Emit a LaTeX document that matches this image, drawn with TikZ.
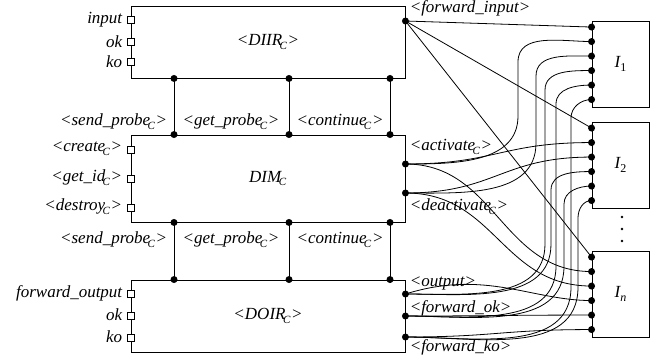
\documentclass[tikz,border=0pt]{standalone}
\usepackage{fontspec}
\setmainfont{Liberation Serif}
\newcommand{\subC}{\kern-.15em\raisebox{-.5ex}{\fontsize{11}{11}\selectfont C}\kern.04em}
\newcommand{\subI}[1]{\raisebox{-.45ex}{\fontsize{12}{12}\selectfont #1}}
\begin{document}
\begin{tikzpicture}[
  x=1pt, y=-1pt,
  font=\fontsize{17}{20}\selectfont\itshape,
  line width=0.9pt,
  comp/.style={draw, minimum width=274pt, inner sep=0pt},
  inst/.style={draw, minimum width=57pt, minimum height=86pt, inner sep=0pt},
  port/.style={draw, fill=white, minimum size=7pt, inner sep=0pt, line width=0.7pt},
  wire/.style={line width=0.8pt}
]
\useasboundingbox (0,0) rectangle (663,354);

\node[comp, minimum height=72pt] (diir) at (268,42) {<DIIR\subC>};
\node[comp, minimum height=87pt] (dim) at (268,178.5) {DIM\subC};
\node[comp, minimum height=72pt] (doir) at (268,316) {<DOIR\subC>};

\node[inst] (iOne) at (620.5,64) {I\subI{\upshape 1}};
\node[inst] (iTwo) at (620.5,165) {I\subI{\upshape 2}};
\node[inst] (iN) at (620.5,294) {I\subI{n}};

% ports on the left
\node[port] (pIn) at (131,20) {};
\node[port] (pOk) at (131,42) {};
\node[port] (pKo) at (131,62) {};
\node[port] (pCr) at (131,150) {};
\node[port] (pId) at (131,179) {};
\node[port] (pDe) at (131,208) {};
\node[port] (pFo) at (131,294) {};
\node[port] (pOkB) at (131,316) {};
\node[port] (pKoB) at (131,338) {};

\node[anchor=east] (lIn) at (126,20) {input};
\node[anchor=east] (lOk) at (126,42) {ok};
\node[anchor=east] (lKo) at (126,62) {ko};
\node[anchor=east] (lCr) at (126,149) {<create\subC>};
\node[anchor=east] (lId) at (126,178) {<get\_id\subC>};
\node[anchor=east] (lDe) at (126,207) {<destroy\subC>};
\node[anchor=east] (lFo) at (126,293) {forward\_output};
\node[anchor=east] (lOkB) at (126,315) {ok};
\node[anchor=east] (lKoB) at (126,337) {ko};

% buses between the components
\foreach \x [count=\k] in {174,289,390} {
  \coordinate (up\k) at (\x,0 |- diir.south);
  \coordinate (mu\k) at (\x,0 |- dim.north);
  \coordinate (md\k) at (\x,0 |- dim.south);
  \coordinate (lo\k) at (\x,0 |- doir.north);
}
\foreach \k in {1,2,3} {
  \draw (up\k) -- (mu\k);
  \draw (md\k) -- (lo\k);
  \foreach \c in {up,mu,md,lo} \fill (\c\k) circle (3.5);
}
\node[anchor=east] (sendA) at (171,122) {<send\_probe\subC>};
\node (getA) at (231,122) {<get\_probe\subC>};
\node (contA) at (340,122) {<continue\subC>};
\node[anchor=east] (sendB) at (171,240) {<send\_probe\subC>};
\node (getB) at (231,240) {<get\_probe\subC>};
\node (contB) at (340,240) {<continue\subC>};

% outputs on the right
\coordinate (fi) at (diir.east |- 0,21);
\coordinate (act) at (dim.east |- 0,164);
\coordinate (dea) at (dim.east |- 0,193);
\coordinate (out) at (doir.east |- 0,294);
\coordinate (fok) at (doir.east |- 0,316);
\coordinate (fko) at (doir.east |- 0,337);
\foreach \s in {fi,act,dea,out,fok,fko} \fill (\s) circle (3.5);

\node[anchor=west] (lFi) at (406,8) {<forward\_input>};
\node[anchor=west] (lAct) at (406,147) {<activate\subC>};
\node[anchor=west] (lDea) at (406,207) {<deactivate\subC>};
\node[anchor=west] (lOut) at (406,283) {<output>};
\node[anchor=west] (lFok) at (406,308) {<forward\_ok>};
\node[anchor=west] (lFko) at (406,347) {<forward\_ko>};

\foreach \b in {iOne,iTwo,iN}
  \foreach \i in {1,...,6} {
    \coordinate (\b-\i) at ([yshift={-6.5pt-14.5pt*(\i-1)}]\b.north west);
    \fill (\b-\i) circle (3.5);
  }

% wiring
\draw[wire] (fi) -- (iOne-1);
\draw[wire] (fi) -- (iTwo-1);
\draw[wire] (fi) -- (iN-1);
\draw[wire] (act) to[out=0,in=-90] (518,116) -- (518,62) to[out=90,in=180] (iOne-2);
\draw[wire] (act) .. controls +(90,0) and +(-90,0) .. (iTwo-2);
\draw[wire] (act) .. controls +(90,0) and +(-90,0) .. (iN-2);
\draw[wire] (dea) to[out=0,in=-90] (536,143) -- (536,76) to[out=90,in=180] (iOne-3);
\draw[wire] (dea) .. controls +(90,0) and +(-90,0) .. (iTwo-3);
\draw[wire] (dea) .. controls +(90,0) and +(-90,0) .. (iN-3);
\draw[wire] (out) to[out=0,in=-90] (545,244) -- (545,90) to[out=90,in=180] (iOne-4);
\draw[wire] (out) to[out=0,in=-90] (551,244) -- (551,190) to[out=90,in=180] (iTwo-4);
\draw[wire] (out) .. controls +(80,-25) and +(-60,0) .. (iN-4);
\draw[wire] (fok) to[out=0,in=-90] (556,266) -- (556,104) to[out=90,in=180] (iOne-5);
\draw[wire] (fok) to[out=0,in=-90] (564,266) -- (564,204) to[out=90,in=180] (iTwo-5);
\draw[wire] (fok) .. controls +(90,0) and +(-90,0) .. (iN-5);
\draw[wire] (fko) to[out=0,in=-90] (571,287) -- (571,118) to[out=90,in=180] (iOne-6);
\draw[wire] (fko) to[out=0,in=-90] (578,287) -- (578,218) to[out=90,in=180] (iTwo-6);
\draw[wire] (fko) .. controls +(90,0) and +(-90,0) .. (iN-6);

\foreach \y in {217,229,241} \fill (622,\y) circle (1.3);
\end{tikzpicture}
\end{document}
